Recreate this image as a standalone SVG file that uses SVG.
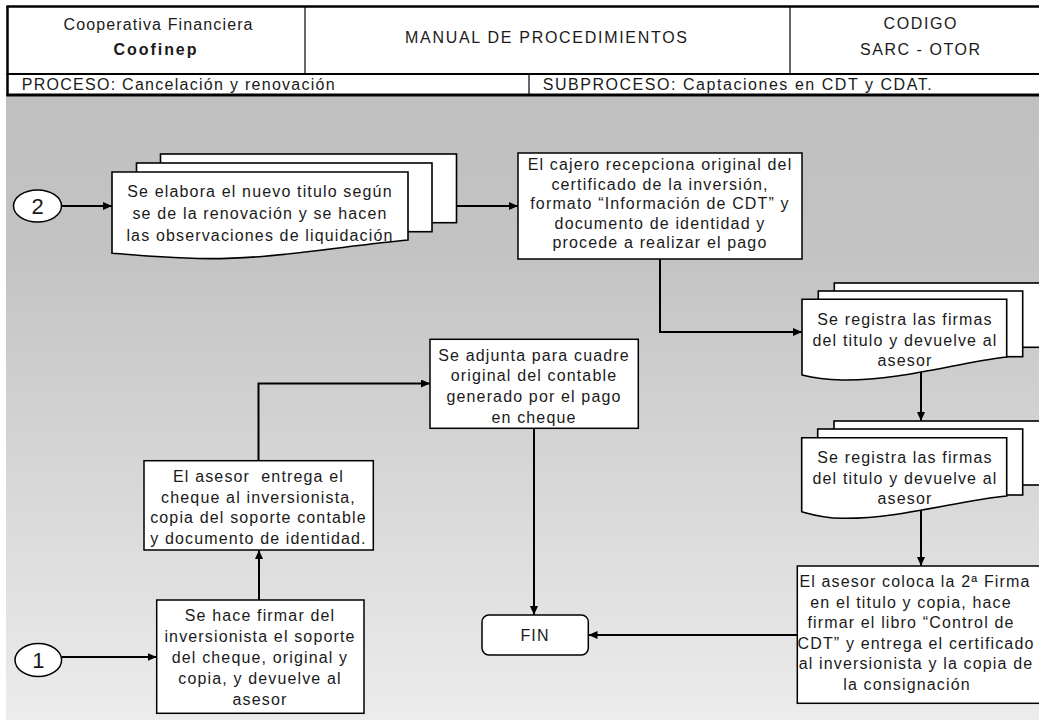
<svg xmlns="http://www.w3.org/2000/svg" width="1039" height="720" viewBox="0 0 1039 720">
  <defs>
    <linearGradient id="bgGrad" x1="0" y1="0" x2="0" y2="1">
      <stop offset="0" stop-color="#c0c0c0"/>
      <stop offset="0.25" stop-color="#c3c3c3"/>
      <stop offset="1" stop-color="#ececec"/>
    </linearGradient>
    <marker id="arrow" markerUnits="userSpaceOnUse" markerWidth="10" markerHeight="8" refX="9" refY="4" orient="auto">
      <path d="M0,0 L9,4 L0,8 Z" fill="#000"/>
    </marker>
    <style>
      .hdr { font-family: "Liberation Sans", Arial, sans-serif; font-size: 16px; fill: #1a1a1a; }
      .t { font-family: "Liberation Sans", Arial, sans-serif; font-size: 16px; letter-spacing: 1.15px; text-anchor: middle; fill: #1a1a1a; }
      .num { font-family: "Liberation Sans", Arial, sans-serif; font-size: 22px; text-anchor: middle; fill: #1a1a1a; }
      .box { fill: #fff; stroke: #000; stroke-width: 1.5; }
      .doc { fill: #fff; stroke: #000; stroke-width: 1.6; stroke-linejoin: miter; }
      .conn { fill: none; stroke: #000; stroke-width: 2; marker-end: url(#arrow); }
      .rule { stroke: #000; fill: none; }
    </style>
  </defs>

  <!-- page background -->
  <rect x="0" y="0" width="1039" height="720" fill="#fff"/>
  <rect x="6" y="96" width="1033" height="624" fill="url(#bgGrad)"/>

  <!-- header table -->
  <g id="header">
    <line class="rule" x1="6.5" y1="6.5" x2="1039" y2="6.5" stroke-width="2.5"/>
    <line class="rule" x1="7.5" y1="6" x2="7.5" y2="96" stroke-width="2.5"/>
    <line class="rule" x1="6.5" y1="74" x2="1039" y2="74" stroke-width="2"/>
    <line class="rule" x1="6.5" y1="95" x2="1039" y2="95" stroke-width="3"/>
    <line class="rule" x1="305" y1="7" x2="305" y2="74" stroke-width="1.2"/>
    <line class="rule" x1="790" y1="7" x2="790" y2="74" stroke-width="1.2"/>
    <line class="rule" x1="529" y1="74" x2="529" y2="94" stroke-width="1.2"/>
    <text class="hdr" x="63.5" y="29.5" textLength="189" lengthAdjust="spacing">Cooperativa Financiera</text>
    <text class="hdr" x="113.5" y="55" font-weight="bold" textLength="83" lengthAdjust="spacing">Coofinep</text>
    <text class="hdr" x="405" y="42.5" textLength="282" lengthAdjust="spacing">MANUAL DE PROCEDIMIENTOS</text>
    <text class="hdr" x="883.5" y="28.5" textLength="73" lengthAdjust="spacing">CODIGO</text>
    <text class="hdr" x="860" y="55" textLength="120" lengthAdjust="spacing">SARC - OTOR</text>
    <text class="hdr" x="21.7" y="90" textLength="313" lengthAdjust="spacing">PROCESO: Cancelación y renovación</text>
    <text class="hdr" x="542.7" y="90" textLength="389" lengthAdjust="spacing">SUBPROCESO: Captaciones en CDT y CDAT.</text>
  </g>

  <!-- connectors -->
  <g id="connectors">
    <path class="conn" d="M61,206 H112"/>
    <path class="conn" d="M456.5,206 H518"/>
    <path class="conn" d="M660,259 V332 H802"/>
    <path class="conn" d="M921,370 V421"/>
    <path class="conn" d="M921,509 V566"/>
    <path class="conn" d="M797,635 H588.5"/>
    <path class="conn" d="M534,428.5 V615"/>
    <path class="conn" d="M62,657 H156.7"/>
    <path class="conn" d="M259,600 V550"/>
    <path class="conn" d="M258.5,461 V383.5 H430"/>
  </g>

  <!-- connector 2 -->
  <g id="conector-2">
    <ellipse cx="37.5" cy="206" rx="24" ry="16" fill="#fff" stroke="#000" stroke-width="1.5"/>
    <text class="num" x="37.5" y="214">2</text>
  </g>

  <!-- connector 1 -->
  <g id="conector-1">
    <ellipse cx="38.3" cy="660" rx="23.3" ry="16.5" fill="#fff" stroke="#000" stroke-width="1.5"/>
    <text class="num" x="38.3" y="668">1</text>
  </g>

  <!-- new title: stacked documents -->
  <g id="nuevo-titulo">
    <rect class="doc" x="160.5" y="154" width="296" height="68.7"/>
    <rect class="doc" x="136.5" y="163" width="295.5" height="68.7"/>
    <path class="doc" d="M112,172 H408 V240 C340,246 260,262 186,258 C150,257 128,254 112,253.3 Z"/>
    <text class="t" x="260" y="197.3">Se elabora el nuevo titulo según</text>
    <text class="t" x="260" y="219">se de la renovación y se hacen</text>
    <text class="t" x="260" y="240.7">las observaciones de liquidación</text>
  </g>

  <!-- cashier receives the certificate -->
  <g id="cajero-recepciona">
    <rect class="box" x="518" y="153" width="284" height="106"/>
    <text class="t" x="660" y="170">El cajero recepciona original del</text>
    <text class="t" x="660" y="189.5">certificado de la inversión,</text>
    <text class="t" x="660" y="209">formato “Información de CDT” y</text>
    <text class="t" x="660" y="228.5">documento de identidad y</text>
    <text class="t" x="660" y="248">procede a realizar el pago</text>
  </g>

  <!-- signatures registered (first) -->
  <g id="registra-firmas-1">
    <rect class="doc" x="834.3" y="283" width="220" height="64.3"/>
    <rect class="doc" x="818.3" y="291" width="204.4" height="65.7"/>
    <path class="doc" d="M802,299.3 H1006.7 V357 C960,362 900,381 842,380 C822,379.5 810,377 802,375 Z"/>
    <text class="t" x="905" y="325">Se registra las firmas</text>
    <text class="t" x="905" y="345.5">del titulo y devuelve al</text>
    <text class="t" x="905" y="366">asesor</text>
  </g>

  <!-- signatures registered (second) -->
  <g id="registra-firmas-2">
    <rect class="doc" x="834" y="421" width="220" height="64"/>
    <rect class="doc" x="817.7" y="429" width="205" height="66"/>
    <path class="doc" d="M801.7,437.7 H1006.7 V496 C960,500 900,519 842,518.3 C822,518 810,514 801.7,511.7 Z"/>
    <text class="t" x="905" y="463.3">Se registra las firmas</text>
    <text class="t" x="905" y="484">del titulo y devuelve al</text>
    <text class="t" x="905" y="504">asesor</text>
  </g>

  <!-- second signature and delivery -->
  <g id="asesor-coloca">
    <rect class="box" x="797.3" y="566" width="260" height="137.3"/>
    <text class="t" x="915" y="587.3">El asesor coloca la 2ª Firma</text>
    <text class="t" x="911" y="607.5">en el titulo y copia, hace</text>
    <text class="t" x="911" y="628">firmar el libro “Control de</text>
    <text class="t" x="916" y="648.5">CDT” y entrega el certificado</text>
    <text class="t" x="916" y="669">al inversionista y la copia de</text>
    <text class="t" x="907" y="689.5">la consignación</text>
  </g>

  <!-- end terminal -->
  <g id="fin">
    <rect class="box" x="482" y="615" width="106.3" height="40" rx="7" ry="7"/>
    <text class="t" x="535" y="641">FIN</text>
  </g>

  <!-- accounting original attached -->
  <g id="adjunta-contable">
    <rect class="box" x="430" y="339.3" width="208.3" height="89"/>
    <text class="t" x="534" y="360.7">Se adjunta para cuadre</text>
    <text class="t" x="534" y="381.3">original del contable</text>
    <text class="t" x="534" y="402">generado por el pago</text>
    <text class="t" x="534" y="422.5">en cheque</text>
  </g>

  <!-- cheque delivered to the investor -->
  <g id="asesor-entrega">
    <rect class="box" x="144" y="460.7" width="229.3" height="89.3"/>
    <text class="t" x="258.5" y="482" style="white-space:pre">El asesor  entrega el</text>
    <text class="t" x="258.5" y="502.5">cheque al inversionista,</text>
    <text class="t" x="258.5" y="523">copia del soporte contable</text>
    <text class="t" x="258.5" y="543.5">y documento de identidad.</text>
  </g>

  <!-- investor signs the cheque voucher -->
  <g id="hace-firmar">
    <rect class="box" x="156.7" y="600" width="207.3" height="113.3"/>
    <text class="t" x="260" y="621">Se hace firmar del</text>
    <text class="t" x="260" y="642">inversionista el soporte</text>
    <text class="t" x="260" y="663">del cheque, original y</text>
    <text class="t" x="260" y="684">copia, y devuelve al</text>
    <text class="t" x="260" y="705">asesor</text>
  </g>
</svg>
